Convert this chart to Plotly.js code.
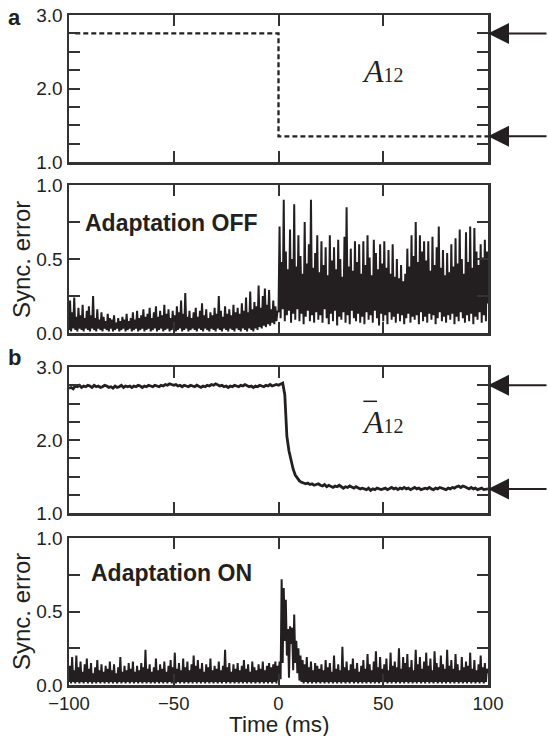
<!DOCTYPE html>
<html><head><meta charset="utf-8">
<script src="https://cdn.plot.ly/plotly-3.0.1.min.js"></script>
<style>html,body{margin:0;padding:0;background:#fff}</style>
</head><body><div id="chart" style="width:548px;height:736px"></div>
<script>
// ---- data ----
const timeTicks = [-100, -50, 0, 50, 100];
const timeTickText = ['\u2212100', '\u221250', '0', '50', '100'];

// panel a: imposed coupling A12 (step)
const stepTime = [-97, 0, 0, 100];
const stepA12 = [2.75, 2.75, 1.35, 1.35];
const arrowLevelsA = [2.75, 1.35];

// sampling of the error traces (ms)
const errT0 = -100, errDT = 0.5;
const errorOff = [
0.02,0.22,0.01,0.14,0.03,0.24,0.02,0.11,0.01,0.17,0.03,0.12,0.02,0.19,0.01,0.10,0.03,0.15,0.02,0.18,
0.01,0.12,0.03,0.25,0.02,0.10,0.01,0.16,0.03,0.09,0.02,0.14,0.01,0.11,0.03,0.08,0.02,0.13,0.01,0.10,
0.03,0.09,0.01,0.12,0.02,0.07,0.03,0.10,0.01,0.08,0.02,0.11,0.03,0.09,0.01,0.13,0.02,0.08,0.03,0.10,
0.01,0.14,0.02,0.09,0.03,0.15,0.01,0.10,0.02,0.12,0.03,0.16,0.01,0.11,0.02,0.13,0.03,0.17,0.01,0.10,
0.02,0.14,0.03,0.18,0.01,0.11,0.02,0.15,0.03,0.12,0.01,0.19,0.02,0.13,0.03,0.16,0.01,0.10,0.02,0.15,
0.03,0.12,0.01,0.18,0.02,0.14,0.03,0.22,0.01,0.13,0.02,0.27,0.03,0.11,0.01,0.15,0.02,0.10,0.03,0.14,
0.02,0.17,0.01,0.11,0.03,0.15,0.02,0.20,0.01,0.12,0.03,0.16,0.02,0.10,0.01,0.14,0.03,0.12,0.02,0.17,
0.01,0.13,0.03,0.25,0.02,0.15,0.01,0.11,0.03,0.18,0.02,0.13,0.01,0.16,0.03,0.12,0.02,0.19,0.01,0.14,
0.03,0.17,0.02,0.13,0.01,0.20,0.03,0.15,0.02,0.24,0.01,0.14,0.03,0.28,0.02,0.16,0.01,0.21,0.03,0.18,
0.02,0.32,0.04,0.17,0.03,0.25,0.05,0.30,0.04,0.19,0.06,0.29,0.05,0.16,0.07,0.22,0.06,0.18,0.08,0.15,
0.14,0.72,0.10,0.48,0.16,0.90,0.08,0.55,0.12,0.43,0.15,0.70,0.07,0.50,0.13,0.87,0.09,0.45,0.16,0.66,
0.08,0.52,0.13,0.40,0.06,0.75,0.11,0.47,0.15,0.60,0.08,0.90,0.12,0.44,0.07,0.54,0.14,0.66,0.09,0.41,
0.12,0.62,0.07,0.46,0.16,0.58,0.10,0.39,0.06,0.66,0.13,0.49,0.08,0.58,0.15,0.43,0.05,0.63,0.11,0.50,
0.09,0.38,0.14,0.65,0.07,0.85,0.12,0.45,0.06,0.57,0.15,0.42,0.10,0.62,0.08,0.48,0.13,0.60,0.07,0.40,
0.11,0.62,0.06,0.46,0.14,0.66,0.09,0.51,0.12,0.39,0.07,0.63,0.15,0.54,0.10,0.43,0.05,0.60,0.13,0.47,
0.08,0.62,0.12,0.44,0.06,0.56,0.14,0.40,0.09,0.60,0.11,0.38,0.07,0.50,0.13,0.37,0.08,0.46,0.12,0.35,
0.06,0.40,0.10,0.57,0.13,0.45,0.07,0.66,0.11,0.52,0.09,0.75,0.12,0.48,0.06,0.66,0.14,0.55,0.08,0.62,
0.11,0.49,0.07,0.62,0.13,0.42,0.09,0.65,0.12,0.46,0.06,0.58,0.10,0.72,0.14,0.44,0.08,0.56,0.11,0.39,
0.07,0.54,0.12,0.41,0.09,0.60,0.13,0.45,0.06,0.64,0.11,0.47,0.08,0.70,0.14,0.50,0.10,0.40,0.07,0.68,
0.12,0.48,0.08,0.72,0.13,0.44,0.06,0.71,0.11,0.55,0.09,0.46,0.14,0.60,0.07,0.51,0.12,0.63,0.08,0.55,
0.20];

// panel b: adapted coupling (1 ms sampling)
const abarT0 = -100, abarDT = 1;
const aBar12 = [
2.71,2.72,2.70,2.74,2.73,2.75,2.72,2.74,2.73,2.75,
2.74,2.72,2.75,2.73,2.74,2.72,2.73,2.75,2.74,2.72,
2.73,2.71,2.74,2.72,2.73,2.75,2.72,2.74,2.73,2.74,
2.72,2.74,2.73,2.75,2.74,2.72,2.74,2.73,2.75,2.74,
2.73,2.75,2.74,2.73,2.75,2.74,2.76,2.75,2.77,2.76,
2.75,2.76,2.74,2.75,2.73,2.75,2.74,2.73,2.75,2.74,
2.73,2.75,2.74,2.72,2.74,2.73,2.75,2.74,2.76,2.75,
2.77,2.76,2.74,2.75,2.73,2.74,2.72,2.74,2.73,2.75,
2.74,2.73,2.75,2.74,2.76,2.75,2.73,2.74,2.72,2.74,
2.73,2.75,2.74,2.73,2.75,2.74,2.76,2.74,2.75,2.76,
2.75,2.77,2.78,2.62,2.05,1.85,1.70,1.60,1.52,1.47,
1.44,1.42,1.41,1.40,1.41,1.39,1.40,1.38,1.39,1.40,
1.38,1.37,1.39,1.36,1.38,1.37,1.35,1.37,1.36,1.38,
1.36,1.34,1.36,1.35,1.37,1.35,1.34,1.36,1.35,1.33,
1.34,1.33,1.32,1.34,1.31,1.33,1.32,1.34,1.33,1.32,
1.33,1.34,1.32,1.33,1.35,1.33,1.34,1.32,1.34,1.33,
1.35,1.33,1.34,1.32,1.34,1.35,1.33,1.34,1.32,1.33,
1.34,1.33,1.35,1.33,1.32,1.34,1.33,1.35,1.34,1.33,
1.32,1.34,1.33,1.35,1.34,1.36,1.37,1.35,1.37,1.36,
1.34,1.33,1.35,1.33,1.34,1.32,1.33,1.34,1.32,1.33,
1.33];
const arrowLevelsB = [2.75, 1.33];

const errorOn = [
0.02,0.13,0.01,0.19,0.02,0.10,0.01,0.20,0.02,0.12,0.01,0.16,0.02,0.09,0.01,0.14,0.02,0.18,0.01,0.11,
0.02,0.15,0.01,0.08,0.02,0.12,0.01,0.17,0.02,0.10,0.01,0.14,0.02,0.09,0.01,0.13,0.02,0.11,0.01,0.16,
0.02,0.10,0.01,0.14,0.02,0.08,0.01,0.12,0.02,0.19,0.01,0.09,0.02,0.13,0.01,0.10,0.02,0.15,0.01,0.11,
0.02,0.16,0.01,0.09,0.02,0.13,0.01,0.10,0.02,0.15,0.01,0.12,0.02,0.24,0.01,0.11,0.02,0.14,0.01,0.09,
0.02,0.12,0.01,0.18,0.02,0.10,0.01,0.14,0.02,0.11,0.01,0.16,0.02,0.09,0.01,0.13,0.02,0.17,0.01,0.12,
0.02,0.22,0.01,0.11,0.02,0.15,0.01,0.10,0.02,0.18,0.01,0.12,0.02,0.16,0.01,0.10,0.02,0.14,0.01,0.20,
0.02,0.13,0.01,0.17,0.02,0.11,0.01,0.15,0.02,0.09,0.01,0.14,0.02,0.12,0.01,0.18,0.02,0.10,0.01,0.13,
0.02,0.11,0.01,0.16,0.02,0.10,0.01,0.13,0.02,0.24,0.01,0.12,0.02,0.15,0.01,0.09,0.02,0.14,0.01,0.11,
0.02,0.15,0.01,0.10,0.02,0.13,0.01,0.17,0.02,0.11,0.01,0.14,0.02,0.09,0.01,0.16,0.02,0.12,0.01,0.10,
0.02,0.14,0.01,0.11,0.02,0.16,0.01,0.10,0.02,0.13,0.01,0.15,0.02,0.12,0.01,0.14,0.02,0.16,0.01,0.13,
0.03,0.16,0.04,0.72,0.15,0.66,0.30,0.58,0.20,0.38,0.05,0.40,0.28,0.39,0.10,0.48,0.15,0.30,0.08,0.25,
0.03,0.20,0.02,0.17,0.01,0.14,0.02,0.19,0.01,0.12,0.02,0.16,0.01,0.10,0.02,0.15,0.01,0.13,0.02,0.11,
0.01,0.14,0.02,0.10,0.01,0.17,0.02,0.12,0.01,0.15,0.02,0.09,0.01,0.20,0.02,0.11,0.01,0.14,0.02,0.10,
0.01,0.26,0.02,0.12,0.01,0.16,0.02,0.10,0.01,0.14,0.02,0.18,0.01,0.11,0.02,0.15,0.01,0.09,0.02,0.13,
0.01,0.17,0.02,0.11,0.01,0.21,0.02,0.14,0.01,0.10,0.02,0.16,0.01,0.23,0.02,0.12,0.01,0.19,0.02,0.11,
0.01,0.14,0.02,0.18,0.01,0.10,0.02,0.22,0.01,0.13,0.02,0.16,0.01,0.12,0.02,0.25,0.01,0.11,0.02,0.19,
0.01,0.15,0.02,0.21,0.01,0.12,0.02,0.17,0.01,0.10,0.02,0.24,0.01,0.14,0.02,0.19,0.01,0.11,0.02,0.16,
0.01,0.22,0.02,0.13,0.01,0.18,0.02,0.10,0.01,0.23,0.02,0.15,0.01,0.12,0.02,0.20,0.01,0.14,0.02,0.11,
0.01,0.24,0.02,0.13,0.01,0.17,0.02,0.11,0.01,0.21,0.02,0.14,0.01,0.10,0.02,0.19,0.01,0.12,0.02,0.16,
0.01,0.13,0.02,0.22,0.01,0.11,0.02,0.17,0.01,0.10,0.02,0.14,0.01,0.20,0.02,0.12,0.01,0.15,0.02,0.11,
0.08];

const aTicks = [1, 1.25, 1.5, 1.75, 2, 2.25, 2.5, 2.75, 3];
const aTickText = ['1.0', '', '', '', '2.0', '', '', '', '3.0'];
const eTicks = [0, 0.25, 0.5, 0.75, 1];
const eTickText = ['0.0', '', '0.5', '', '1.0'];

// ---- build ----
const errTime = errorOff.map((_, i) => errT0 + i * errDT);
const errTimeOn = errorOn.map((_, i) => errT0 + i * errDT);
const abarTime = aBar12.map((_, i) => abarT0 + i * abarDT);

const INK = '#231f20';
const FRAME = '#333333';
const FONT = 'Liberation Sans, Arial, Helvetica, sans-serif';
const SERIF = 'Liberation Serif, Times New Roman, serif';

const traces = [
  {x: stepTime, y: stepA12, xaxis: 'x', yaxis: 'y', mode: 'lines',
   line: {color: INK, width: 2.3, dash: '5px,3px'}, hoverinfo: 'skip'},
  {x: errTime, y: errorOff, xaxis: 'x2', yaxis: 'y2', mode: 'lines',
   line: {color: INK, width: 2.0}, hoverinfo: 'skip'},
  {x: abarTime, y: aBar12, xaxis: 'x3', yaxis: 'y3', mode: 'lines',
   line: {color: INK, width: 2.8}, hoverinfo: 'skip'},
  {x: errTimeOn, y: errorOn, xaxis: 'x4', yaxis: 'y4', mode: 'lines',
   line: {color: INK, width: 2.0}, hoverinfo: 'skip'}
];

const H = 736;
const xDom = [69 / 548, 488 / 548];
function yDom(top, bot) { return [1 - bot / H, 1 - top / H]; }
const doms = [yDom(15, 162), yDom(185, 333), yDom(367, 513), yDom(538, 685)];

function xAx(anchor, labels) {
  return {
    domain: xDom, anchor: anchor, range: [-100, 100],
    showline: true, linecolor: FRAME, linewidth: 2.5, mirror: 'allticks',
    ticks: 'inside', ticklen: 11, tickwidth: 2, tickcolor: FRAME,
    tickvals: timeTicks, ticktext: timeTickText, showticklabels: labels,
    tickfont: {family: FONT, size: 18.5, color: INK},
    showgrid: false, zeroline: false, fixedrange: true
  };
}
function yAx(anchor, dom, range, tv, tt) {
  return {
    domain: dom, anchor: anchor, range: range,
    showline: true, linecolor: FRAME, linewidth: 2.5, mirror: 'allticks',
    ticks: 'inside', ticklen: 11, tickwidth: 2, tickcolor: FRAME,
    tickvals: tv, ticktext: tt,
    tickfont: {family: FONT, size: 19, color: INK},
    showgrid: false, zeroline: false, fixedrange: true
  };
}

function arrow(xref, yref, level) {
  return {xref: xref, yref: yref, x: 100, y: level, ax: 62, ay: 0, text: '',
          showarrow: true, arrowhead: 2, arrowsize: 2.1, arrowwidth: 2, arrowcolor: INK, standoff: 0};
}

function label(x, y, text, size, extra) {
  return Object.assign({xref: 'paper', yref: 'paper', x: x / 548, y: 1 - y / H, xanchor: 'center',
    yanchor: 'middle', showarrow: false, text: text, font: {family: FONT, size: size, color: INK}}, extra || {});
}

const annotations = [
  label(14, 17, '<b>a</b>', 22),
  label(14, 357, '<b>b</b>', 22),
  {xref: 'x', yref: 'y', x: 50, y: 2.24, xanchor: 'center', yanchor: 'middle', showarrow: false,
   text: '<i>A</i><span style="font-size:20px">12</span>', font: {family: SERIF, size: 32, color: INK}},
  {xref: 'x3', yref: 'y3', x: 50, y: 2.24, xanchor: 'center', yanchor: 'middle', showarrow: false,
   text: '<i>A</i><span style="font-size:20px">12</span>', font: {family: SERIF, size: 32, color: INK}},
  label(83, 223, '<b>Adaptation OFF</b>', 23, {xanchor: 'left'}),
  label(89, 573, '<b>Adaptation ON</b>', 23, {xanchor: 'left'}),
  label(21, 260, 'Sync. error', 24, {textangle: -90}),
  label(21, 612, 'Sync. error', 24, {textangle: -90}),
  label(278.5, 724, 'Time (ms)', 22.5)
];
arrowLevelsA.forEach(v => annotations.push(arrow('x', 'y', v)));
arrowLevelsB.forEach(v => annotations.push(arrow('x3', 'y3', v)));

const layout = {
  width: 548, height: 736,
  margin: {l: 0, r: 0, t: 0, b: 0},
  paper_bgcolor: '#fff', plot_bgcolor: '#fff',
  showlegend: false,
  font: {family: FONT, color: INK},
  xaxis: xAx('y', false),
  xaxis2: xAx('y2', false),
  xaxis3: xAx('y3', false),
  xaxis4: xAx('y4', true),
  yaxis: yAx('x', doms[0], [1, 3], aTicks, aTickText),
  yaxis2: yAx('x2', doms[1], [0, 1], eTicks, eTickText),
  yaxis3: yAx('x3', doms[2], [1, 3], aTicks, aTickText),
  yaxis4: yAx('x4', doms[3], [0, 1], eTicks, eTickText),
  annotations: annotations,
  shapes: [
    {type: 'line', xref: 'x3', yref: 'y3', x0: 40.5, x1: 47, y0: 2.53, y1: 2.53,
     line: {color: INK, width: 1.5}}
  ]
};

Plotly.newPlot('chart', traces, layout, {displayModeBar: false, staticPlot: true});
</script></body></html>
